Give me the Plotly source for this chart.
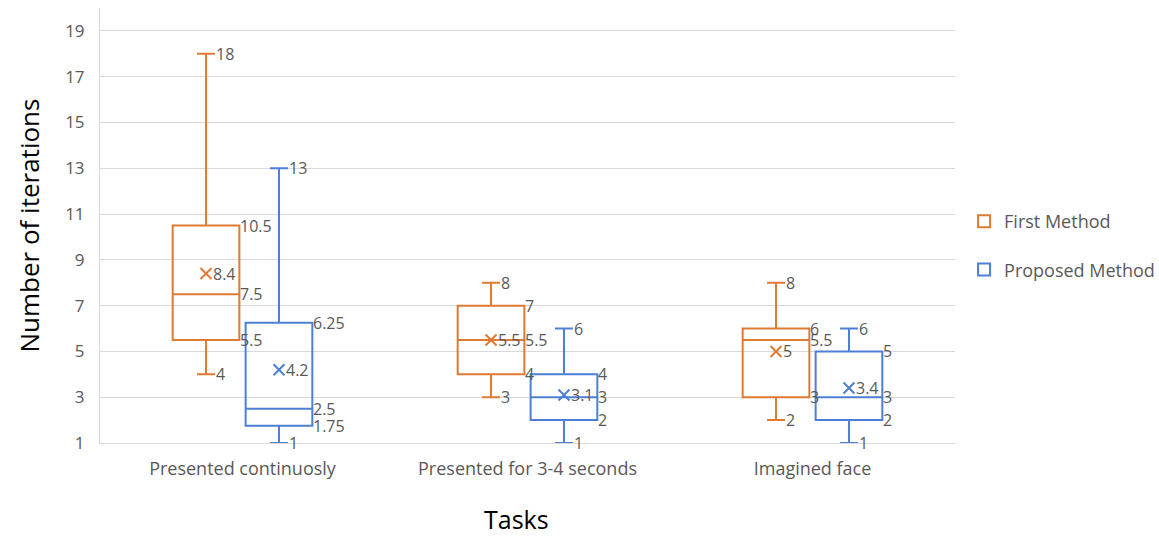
import plotly.graph_objects as go

categories = ["Presented continuosly", "Presented for 3-4 seconds", "Imagined face"]
series_names = ["First Method", "Proposed Method"]

first_min = [4, 3, 2]
first_q1 = [5.5, 4, 3]
first_median = [7.5, 5.5, 5.5]
first_q3 = [10.5, 7, 6]
first_max = [18, 8, 8]
first_mean = [8.4, 5.5, 5]

prop_min = [1, 1, 1]
prop_q1 = [1.75, 2, 2]
prop_median = [2.5, 3, 3]
prop_q3 = [6.25, 4, 5]
prop_max = [13, 6, 6]
prop_mean = [4.2, 3.1, 3.4]

y_ticks = [1, 3, 5, 7, 9, 11, 13, 15, 17, 19]

colors = ["#E07A32", "#4C7FD6"]
offset = 0.128
box_w = 0.234
whisker_frac = 0.27
label_color = "#595959"
FONT = "Open Sans"

series = [
    dict(mn=first_min, q1=first_q1, med=first_median, q3=first_q3, mx=first_max, mean=first_mean),
    dict(mn=prop_min, q1=prop_q1, med=prop_median, q3=prop_q3, mx=prop_max, mean=prop_mean),
]

def fmt(v):
    return ("%g" % v)

fig = go.Figure()
annotations = []
for s_i, (name, d, col) in enumerate(zip(series_names, series, colors)):
    sign = -1 if s_i == 0 else 1
    xs = [i + sign * offset for i in range(len(categories))]
    fig.add_trace(go.Box(
        name=name, x=xs, q1=d["q1"], median=d["med"], q3=d["q3"],
        lowerfence=d["mn"], upperfence=d["mx"],
        width=box_w, whiskerwidth=whisker_frac,
        line=dict(color=col, width=2), fillcolor="rgba(255,255,255,0)",
        boxpoints=False, legendgroup=name, hoverinfo="skip",
    ))
    fig.add_trace(go.Scatter(
        x=xs, y=d["mean"], mode="markers", showlegend=False, hoverinfo="skip",
        marker=dict(symbol="x-thin", size=11, line=dict(color=col, width=2)),
    ))
    for i, x in enumerate(xs):
        edge = x + box_w / 2
        cap = x + box_w * whisker_frac / 2
        for xv, yv in [(cap, d["mx"][i]), (cap, d["mn"][i]), (edge, d["q3"][i]),
                       (edge, d["med"][i]), (edge, d["q1"][i]), (x, d["mean"][i])]:
            annotations.append(dict(
                x=xv, y=yv, xref="x", yref="y", text=fmt(yv), showarrow=False,
                xanchor="left", yanchor="middle", xshift=5 if xv == x else -1,
                font=dict(family=FONT, size=16, color=label_color),
            ))

annotations.append(dict(
    x=-72 / 855, y=0.5, xref="paper", yref="paper", xanchor="center", yanchor="middle",
    text="Number of iterations", showarrow=False,
    font=dict(family=FONT, size=26, color="#000000"), textangle=-90,
))
annotations.append(dict(
    x=(516 - 100) / 855, y=-(519 - 443) / 435, xref="paper", yref="paper", text="Tasks",
    showarrow=False, xanchor="center", yanchor="middle",
    font=dict(family=FONT, size=25, color="#000000"),
))

fig.update_layout(
    annotations=annotations,
    width=1159, height=537,
    margin=dict(l=100, r=204, t=8, b=94, autoexpand=False),
    paper_bgcolor="white", plot_bgcolor="white",
    boxmode="overlay",
    font=dict(family=FONT, color=label_color),
    xaxis=dict(
        range=[-0.5, 2.5], tickvals=list(range(len(categories))), ticktext=categories,
        showgrid=False, zeroline=False, showline=True, linecolor="#d9d9d9", linewidth=1,
        tickfont=dict(family=FONT, size=18, color=label_color), ticks="", ticklabelstandoff=9,
    ),
    yaxis=dict(
        range=[1, 20], tickvals=y_ticks, showgrid=True, gridcolor="#d9d9d9", gridwidth=1,
        zeroline=False, showline=True, linecolor="#d9d9d9", linewidth=1,
        tickfont=dict(family=FONT, size=17, color=label_color), ticks="", ticklabelstandoff=11,
    ),
    legend=dict(
        x=1.0106, y=0.454, xanchor="left", yanchor="middle", tracegroupgap=22,
        font=dict(family=FONT, size=18, color=label_color), bgcolor="rgba(0,0,0,0)",
    ),
)

fig.write_html("out.html")
